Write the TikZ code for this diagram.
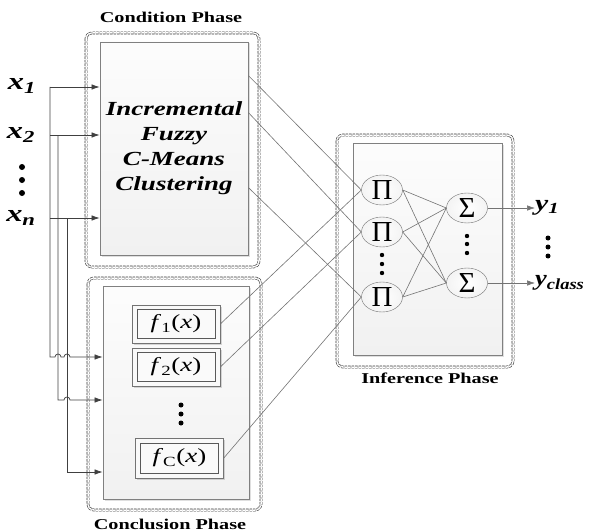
\documentclass[tikz,border=0pt]{standalone}
\usepackage{fontspec}
\setmainfont{Liberation Serif}
\usetikzlibrary{arrows.meta,shapes.geometric,shadows}
\newcommand{\wide}[1]{\scalebox{1.35}[1]{#1}}

\begin{document}
\begin{tikzpicture}[x=1pt,y=-1pt]
                \tikzstyle{every node}+=[inner sep=0pt]
                \tikzstyle{phase}=[draw=black!80, double=white, double distance=1.5pt, line width=0.6pt, dash pattern=on 2.5pt off 1pt, rounded corners=6pt]
                \tikzstyle{panel}=[draw=black!50, line width=0.8pt, top color=gray!2, bottom color=gray!11, drop shadow={opacity=0.25, shadow xshift=1.5pt, shadow yshift=-1.5pt}]
                \tikzstyle{fouter}=[draw=black!55, line width=0.6pt, fill=gray!5, minimum width=88pt, minimum height=38pt, drop shadow={opacity=0.3, shadow xshift=1.5pt, shadow yshift=-1.5pt}]
                \tikzstyle{finner}=[draw=black!65, line width=0.6pt, fill=gray!4, minimum width=78pt, minimum height=29pt, font=\fontsize{20}{20}\selectfont]
                \tikzstyle{unit}=[ellipse, draw=black!55, inner color=white, outer color=gray!9, minimum width=41pt, minimum height=30pt, font=\fontsize{29}{29}\selectfont]
                \tikzstyle{wire}=[draw=black!55, line width=0.6pt]
                \tikzstyle{feed}=[draw=black!75, line width=0.7pt]
                \tikzstyle{tip}=[-{Latex[length=8pt,width=5.5pt]}]
                \tikzstyle{title}=[font=\fontsize{15}{15}\selectfont\bfseries]
                \tikzstyle{var}=[font=\fontsize{24}{24}\selectfont\bfseries\itshape]
                \useasboundingbox (0,0) rectangle (591,532);
                \draw [phase] (86,33) rectangle (259,267);
                \draw [phase] (88,278) rectangle (261,510);
                \draw [phase] (337,135) rectangle (513,367);
                \node [panel, minimum width=148pt, minimum height=213pt, align=center, font=\fontsize{20}{25}\selectfont\bfseries\itshape] (cond) at (174,148.5) {\wide{Incremental}\\\wide{Fuzzy}\\\wide{C-Means}\\\wide{Clustering}};
                \node [panel, minimum width=146pt, minimum height=213pt] (concl) at (176,392.5) {};
                \node [panel, minimum width=149pt, minimum height=212pt] (infer) at (427.5,249) {};
                \node [title] (tcond) at (171,17) {\wide{Condition Phase}};
                \node [title] (tconcl) at (170,524) {\wide{Conclusion Phase}};
                \node [title] (tinfer) at (430,378) {\wide{Inference Phase}};
                \node [fouter] (f1o) at (176,324) {};
                \node [finner] (f1) at (f1o) {\wide{\textit{f}\textsubscript{1}(\textit{x})}};
                \node [fouter] (f2o) at (176,367) {};
                \node [finner] (f2) at (f2o) {\wide{\textit{f}\textsubscript{2}(\textit{x})}};
                \node [fouter, minimum height=40pt] (fco) at (179.5,458) {};
                \node [finner, minimum height=30pt] (fc) at (fco) {\wide{\textit{f}\textsubscript{C}(\textit{x})}};
                \node [unit] (p1) at (382,190) {Π};
                \node [unit] (p2) at (382,232) {Π};
                \node [unit] (p3) at (382,297) {Π};
                \node [unit] (s1) at (467,208) {Σ};
                \node [unit] (s2) at (467,283) {Σ};
                \node [var] (x1) at (22,86) {\wide{x\textsubscript{1}}};
                \node [var] (x2) at (21,135) {\wide{x\textsubscript{2}}};
                \node [var] (xn) at (21,218) {\wide{x\textsubscript{n}}};
                \node [var, anchor=west, font=\fontsize{22}{22}\selectfont\bfseries\itshape] (y1) at (535,208) {\wide{y\textsubscript{1}}};
                \node [var, anchor=west, font=\fontsize{22}{22}\selectfont\bfseries\itshape] (yc) at (535,283) {\scalebox{1.2}[1]{y\textsubscript{class}}};
                \coordinate (j1) at (50,87);
                \coordinate (j2) at (50,135);
                \coordinate (jn) at (50,218);
                \coordinate (k1) at (50,357);
                \coordinate (k2) at (58,400);
                \coordinate (kn) at (67,472);
                \draw [feed, tip] (j1) -- (j1 -| cond.west);
                \draw [feed, tip] (j2) -- (j2 -| cond.west);
                \draw [feed, tip] (jn) -- (jn -| cond.west);
                \draw [feed, tip] (j1) -- (k1) -- (55,357) arc[start angle=180, end angle=360, radius=3] -- (64,357) arc[start angle=180, end angle=360, radius=3] -- (k1 -| concl.west);
                \draw [feed, tip] (58,135) -- (k2) -- (64,400) arc[start angle=180, end angle=360, radius=3] -- (k2 -| concl.west);
                \draw [feed, tip] (67,218) -- (kn) -- (kn -| concl.west);
                \draw [wire] ([yshift=-34pt]cond.north east) -- (p1.west);
                \draw [wire] ([yshift=-71pt]cond.north east) -- (p2.west);
                \draw [wire] ([yshift=-146pt]cond.north east) -- (p3.west);
                \draw [wire] (f1o.east) -- (p1.west);
                \draw [wire] (f2o.east) -- (p2.west);
                \draw [wire] (fco.east) -- (p3.west);
                \foreach \p in {p1,p2,p3}
                  \foreach \s in {s1,s2}
                    \draw [wire] (\p.east) -- (\s.west);
                \draw [wire, tip] (s1.east) -- (y1.west);
                \draw [wire, tip] (s2.east) -- (yc.west);
                \foreach \y in {167,180,193} \fill (22,\y) circle (3);
                \foreach \y in {405,414,423} \fill (181,\y) circle (2.5);
                \foreach \y in {255,264,273} \fill (382,\y) circle (2.2);
                \foreach \y in {236,244,253} \fill (467,\y) circle (2.2);
                \foreach \y in {238,247,256} \fill (548,\y) circle (2.5);
              \end{tikzpicture}
\end{document}
